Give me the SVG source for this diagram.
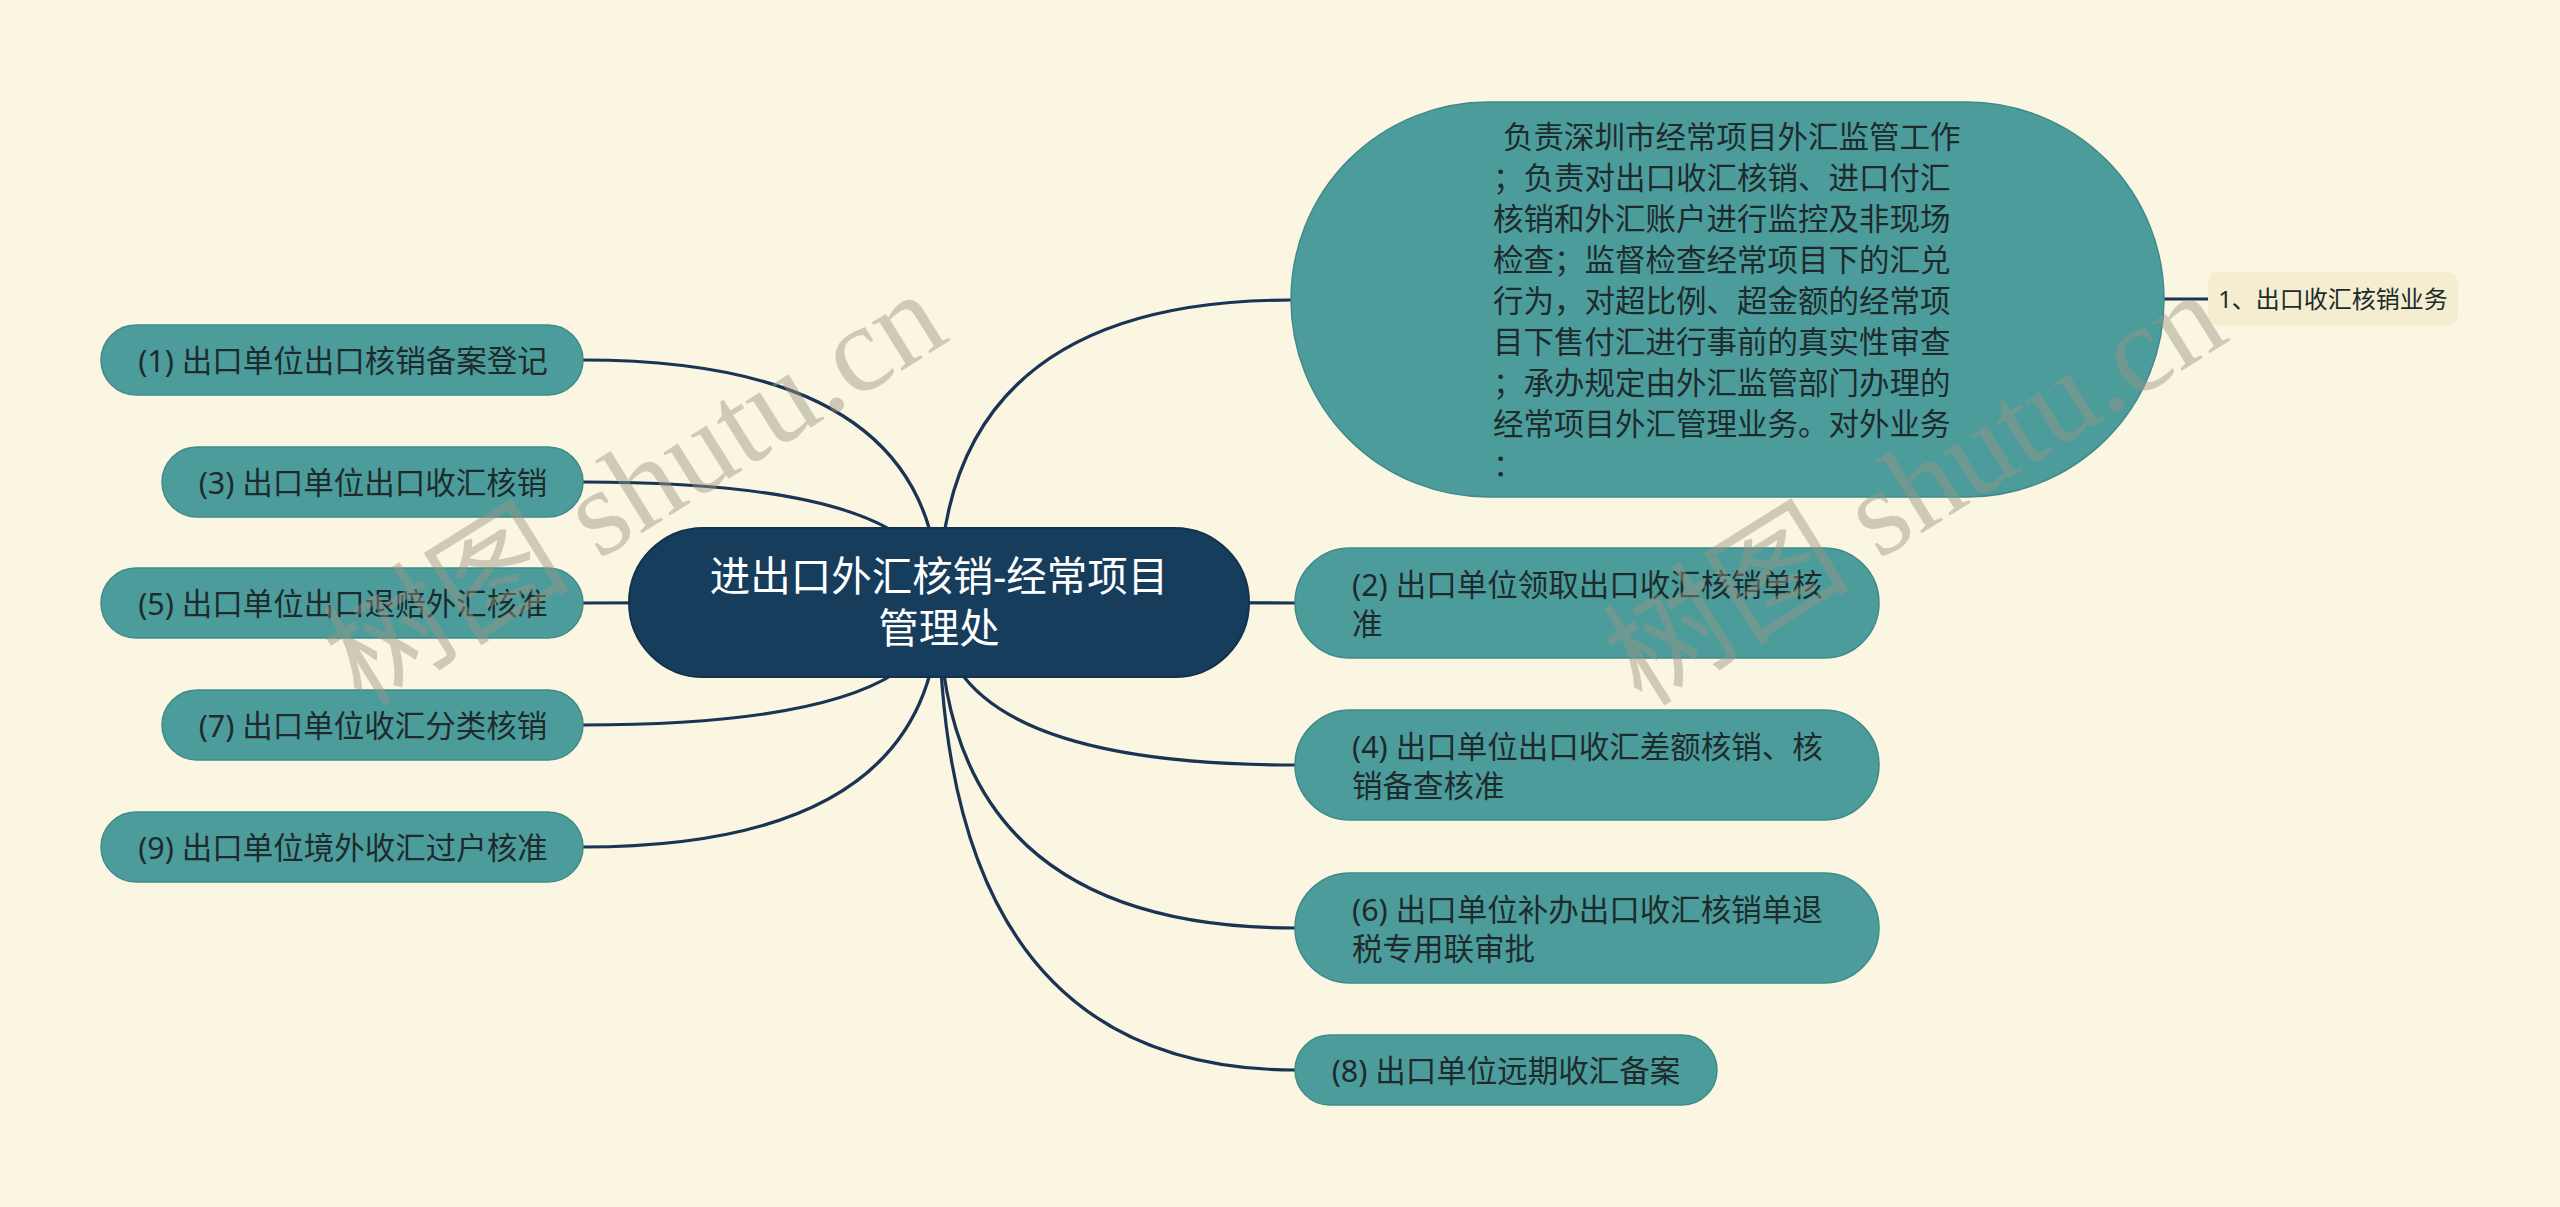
<svg xmlns="http://www.w3.org/2000/svg" width="2560" height="1207" viewBox="0 0 2560 1207">
<style>
.bg{fill:#fbf6e2}
.conn{fill:none;stroke:#1a3553;stroke-width:3.2}
.teal{fill:#4d9c9c;stroke:#3f8b8b;stroke-width:1.5}
.root{fill:#173d5c;stroke:#12324d;stroke-width:2}
.lab{fill:#f4edd0}
.t{font-family:"Noto Sans","Noto Sans CJK SC",sans-serif;fill:#1d2b2c}
.tl{font-size:30.5px;text-anchor:middle}
.tr{font-size:30.5px}
.troot{font-family:"Noto Sans","Noto Sans CJK SC",sans-serif;fill:#ffffff;font-size:40.5px;text-anchor:middle}
.wm{font-family:"Liberation Serif","Noto Sans CJK SC",serif;font-size:124px;fill:#9a9782;opacity:0.45}
</style>
<rect class="bg" x="0" y="0" width="2560" height="1207"/>
<g id="connectors">
<path class="conn" d="M939,602 Q939,300 1291,300"/>
<path class="conn" d="M939,602 L1295,603"/>
<path class="conn" d="M939,602 Q939,765 1295,765"/>
<path class="conn" d="M939,602 Q939,928 1295,928"/>
<path class="conn" d="M939,602 Q939,1070 1295,1070"/>
<path class="conn" d="M939,602 Q939,360 583,360"/>
<path class="conn" d="M939,602 Q939,482 583,482"/>
<path class="conn" d="M939,602 L583,603"/>
<path class="conn" d="M939,602 Q939,725 583,725"/>
<path class="conn" d="M939,602 Q939,847 583,847"/>
<path class="conn" d="M2164,299 L2208,299"/>
</g>
<g id="root">
<rect class="root" x="629" y="528" width="620" height="149" rx="74.5"/>
<text class="troot" x="939" y="591">进出口外汇核销-经常项目</text>
<text class="troot" x="939" y="643">管理处</text>
</g>
<g id="n-desc">
<rect class="teal" x="1291" y="102" width="873" height="395" rx="197.5"/>
<text class="t tr" x="1503" y="148">负责深圳市经常项目外汇监管工作</text>
<text class="t tr" x="1493" y="189">；负责对出口收汇核销、进口付汇</text>
<text class="t tr" x="1493" y="230">核销和外汇账户进行监控及非现场</text>
<text class="t tr" x="1493" y="271">检查；监督检查经常项目下的汇兑</text>
<text class="t tr" x="1493" y="312">行为，对超比例、超金额的经常项</text>
<text class="t tr" x="1493" y="353">目下售付汇进行事前的真实性审查</text>
<text class="t tr" x="1493" y="394">；承办规定由外汇监管部门办理的</text>
<text class="t tr" x="1493" y="435">经常项目外汇管理业务。对外业务</text>
<text class="t tr" x="1493" y="476">：</text>
</g>
<g id="n-label">
<rect class="lab" x="2208" y="272" width="250" height="53" rx="10"/>
<text class="t" x="2333" y="308" font-size="24" text-anchor="middle">1、出口收汇核销业务</text>
</g>
<g id="n2">
<rect class="teal" x="1295" y="548" width="584" height="110" rx="55"/>
<text class="t tr" x="1352" y="595.5">(2) 出口单位领取出口收汇核销单核</text>
<text class="t tr" x="1352" y="634.5">准</text>
</g>
<g id="n4">
<rect class="teal" x="1295" y="710" width="584" height="110" rx="55"/>
<text class="t tr" x="1352" y="757.5">(4) 出口单位出口收汇差额核销、核</text>
<text class="t tr" x="1352" y="796.5">销备查核准</text>
</g>
<g id="n6">
<rect class="teal" x="1295" y="873" width="584" height="110" rx="55"/>
<text class="t tr" x="1352" y="920.5">(6) 出口单位补办出口收汇核销单退</text>
<text class="t tr" x="1352" y="959.5">税专用联审批</text>
</g>
<g id="n8">
<rect class="teal" x="1295" y="1035" width="422" height="70" rx="35"/>
<text class="t tr" x="1506" y="1081.5" text-anchor="middle">(8) 出口单位远期收汇备案</text>
</g>
<g id="n1">
<rect class="teal" x="101" y="325" width="482" height="70" rx="35"/>
<text class="t tl" x="343" y="371.5">(1) 出口单位出口核销备案登记</text>
</g>
<g id="n3">
<rect class="teal" x="162" y="447" width="421" height="70" rx="35"/>
<text class="t tl" x="373" y="493.5">(3) 出口单位出口收汇核销</text>
</g>
<g id="n5">
<rect class="teal" x="101" y="568" width="482" height="70" rx="35"/>
<text class="t tl" x="343" y="614.5">(5) 出口单位出口退赔外汇核准</text>
</g>
<g id="n7">
<rect class="teal" x="162" y="690" width="421" height="70" rx="35"/>
<text class="t tl" x="373" y="736.5">(7) 出口单位收汇分类核销</text>
</g>
<g id="n9">
<rect class="teal" x="101" y="812" width="482" height="70" rx="35"/>
<text class="t tl" x="343" y="858.5">(9) 出口单位境外收汇过户核准</text>
</g>
<g id="watermark">
<text class="wm" x="362" y="708" transform="rotate(-32 362 708)">树图 shutu.cn</text>
<text class="wm" x="1642" y="708" transform="rotate(-32 1642 708)">树图 shutu.cn</text>
</g>
</svg>
